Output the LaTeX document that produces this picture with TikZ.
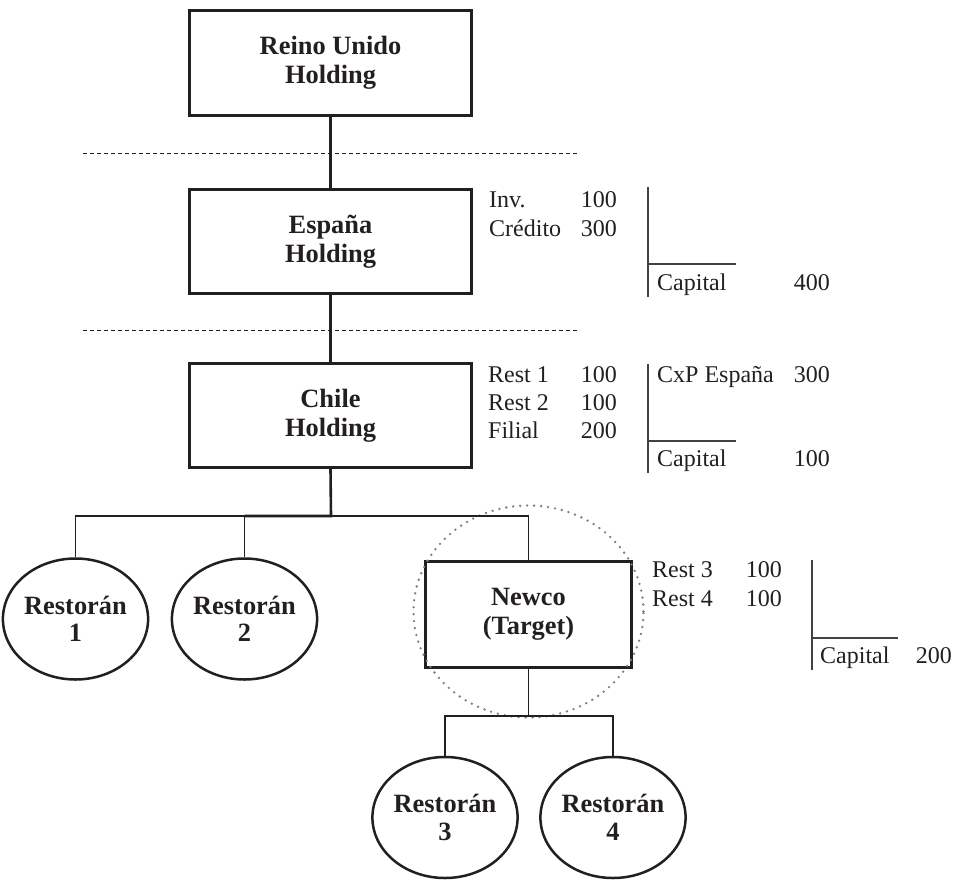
\documentclass[tikz,border=0pt]{standalone}
\usepackage{fontspec}
\setmainfont{Liberation Serif}
\usetikzlibrary{shapes.geometric}
\definecolor{ink}{HTML}{231F20}
\definecolor{dotgray}{HTML}{7E7E7E}
\tikzset{
  entity/.style={draw=ink, line width=3pt, rectangle, inner sep=0pt,
    align=center, text=ink, font=\fontsize{26.4}{29}\selectfont\bfseries},
  resto/.style={draw=ink, line width=2.5pt, ellipse, inner sep=0pt,
    minimum width=134pt, minimum height=121pt, align=center, text=ink,
    font=\fontsize{26.4}{27.5}\selectfont\bfseries},
  conn/.style={draw=ink, line width=1.3pt},
  mainconn/.style={draw=ink, line width=2.6pt},
  sepline/.style={draw=ink, line width=1pt, dash pattern=on 4pt off 3pt},
  tline/.style={draw=ink!85, line width=1.5pt},
  acct/.style={inner sep=0pt, text=ink, font=\fontsize{24}{29}\selectfont},
  lbl/.style={acct, anchor=base west},
  amt/.style={acct, anchor=base east},
  focus/.style={draw=dotgray, ellipse, line width=2.6pt, line cap=round,
    dash pattern=on 0pt off 7pt, inner sep=0pt}
}
\begin{document}
\begin{tikzpicture}[x=1pt, y=-1pt]
\useasboundingbox (0,0) rectangle (959,879);

% Holding chain
\node[entity, minimum width=282pt, minimum height=105pt] (reino) at (330.5,63) {Reino Unido\\Holding};
\node[entity, minimum width=282pt, minimum height=104pt] (espana) at (330.5,241.5) {España\\Holding};
\node[entity, minimum width=282pt, minimum height=104pt] (chile) at (330.5,415.5) {Chile\\Holding};

% jurisdiction separators
\draw[sepline] (83,153) -- (579,153);
\draw[sepline] (83,330) -- (579,330);

\draw[mainconn] (reino) -- (espana);
\draw[mainconn] (espana) -- (chile);

% first-level subsidiaries
\node[resto] (r1) at (75.5,619) {Restorán\\1};
\node[resto] (r2) at (244.5,619) {Restorán\\2};
\node[entity, minimum width=206pt, minimum height=106pt] (newco) at (528.5,614.5) {Newco\\(Target)};
\node[focus, minimum width=230pt, minimum height=212pt] (ring) at (528.5,611.5) {};

\coordinate (bus) at (331,516);
\draw[conn] (r1.north) -- (r1.north |- bus) -- (newco.north |- bus) -- (newco.north);
\draw[conn] (r2.north |- bus) -- (r2.north);
\draw[mainconn] (chile.south) -- (bus) -- (r2.north |- bus);

% Newco subsidiaries
\node[resto] (r3) at (445,817.5) {Restorán\\3};
\node[resto] (r4) at (613,817.5) {Restorán\\4};
\coordinate (bus2) at (528.5,716);
\draw[conn] (newco.south) -- (bus2);
\draw[conn] (r3.north) |- (bus2) -| (r4.north);

% T-account: España Holding
\node[lbl] (e1) at (489,207) {Inv.};
\node[amt] (e1v) at (617,207) {100};
\node[lbl] (e2) at (489,236) {Crédito};
\node[amt] (e2v) at (617,236) {300};
\draw[tline] (648,187) -- (648,297);
\draw[tline] (648,264) -- (736,264);
\node[lbl] (e3) at (657,290) {Capital};
\node[amt] (e3v) at (830,290) {400};

% T-account: Chile Holding
\node[lbl] (c1) at (488,382) {Rest 1};
\node[amt] (c1v) at (617,382) {100};
\node[lbl] (c2) at (488,410) {Rest 2};
\node[amt] (c2v) at (617,410) {100};
\node[lbl] (c3) at (488,438) {Filial};
\node[amt] (c3v) at (617,438) {200};
\draw[tline] (648,364) -- (648,473);
\draw[tline] (648,441) -- (736,441);
\node[lbl] (c4) at (657,382) {CxP España};
\node[amt] (c4v) at (830,382) {300};
\node[lbl] (c5) at (657,466) {Capital};
\node[amt] (c5v) at (830,466) {100};

% T-account: Newco
\node[lbl] (n1) at (652,577) {Rest 3};
\node[amt] (n1v) at (782,577) {100};
\node[lbl] (n2) at (652,606) {Rest 4};
\node[amt] (n2v) at (782,606) {100};
\draw[tline] (812,560) -- (812,670);
\draw[tline] (812,638) -- (898,638);
\node[lbl] (n3) at (820,663) {Capital};
\node[amt] (n3v) at (952,663) {200};
\end{tikzpicture}
\end{document}
